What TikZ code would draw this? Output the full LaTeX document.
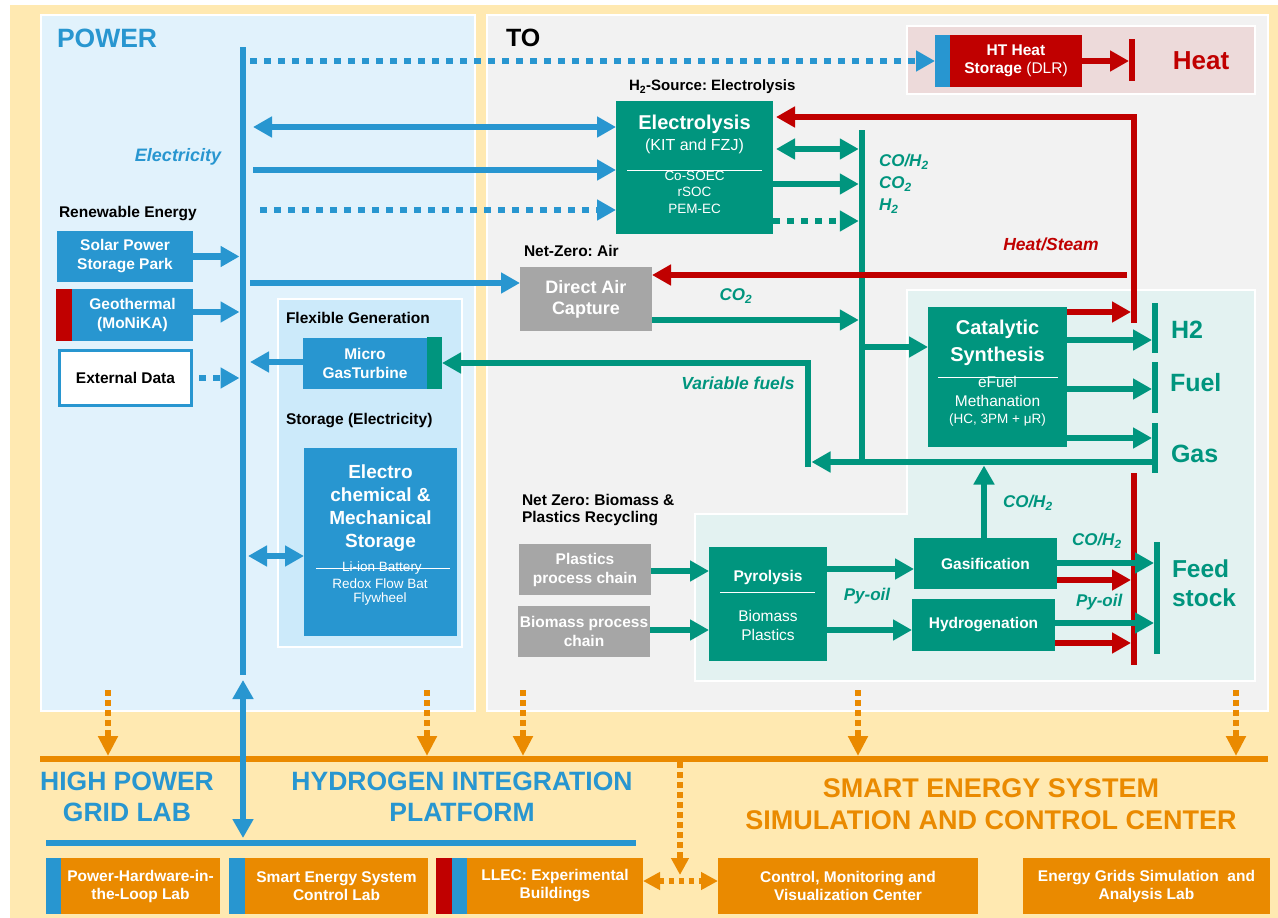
\documentclass[tikz,border=0pt]{standalone}
\usepackage{fontspec}
\setmainfont{Liberation Sans}
\usetikzlibrary{arrows.meta}

\definecolor{cyel}{HTML}{FFE9B1}
\definecolor{cpow}{HTML}{E1F2FC}
\definecolor{cflex}{HTML}{CCEAFA}
\definecolor{cto}{HTML}{F2F2F2}
\definecolor{cheat}{HTML}{EDDADA}
\definecolor{csyn}{HTML}{E3F2F1}
\definecolor{cblue}{HTML}{2896D0}
\definecolor{cgreen}{HTML}{00957E}
\definecolor{cred}{HTML}{C00000}
\definecolor{cgrey}{HTML}{A6A6A6}
\definecolor{corange}{HTML}{EA8A00}

\newcommand\fz[2]{\fontsize{#1pt}{#2pt}\selectfont}
\frenchspacing

\tikzset{
  Tri/.tip={Triangle[length=19pt,width=20pt]},
  OTri/.tip={Triangle[length=20pt,width=19pt]},
  STri/.tip={Triangle[length=17pt,width=17pt]},
}

\begin{document}
\begin{tikzpicture}[x=1pt,y=-1pt,
  every node/.style={inner sep=0pt,outer sep=0pt},
  rect/.style args={#1/#2/#3/#4}{minimum width={(#3)-(#1)},minimum height={(#4)-(#2)},
    at={({((#1)+(#3))/2},{((#2)+(#4))/2})}},
  panel/.style={draw=white,line width=2.5pt},
  box/.style={inner sep=0pt,align=center,text=white},
  bbox/.style={box,fill=cblue,font=\bfseries\fz{15.5}{19}},
  gbox/.style={box,fill=cgreen,font=\bfseries\fz{15.5}{19}},
  ybox/.style={box,fill=cgrey,font=\bfseries\fz{15.5}{19}},
  obox/.style={box,fill=corange,font=\bfseries\fz{15.5}{18}},
  strip/.style={inner sep=0pt},
  lab/.style={anchor=west,font=\bfseries\fz{15.5}{17.5}},
  wtxt/.style={text=white,align=center},
  gital/.style={text=cgreen,font=\bfseries\itshape\fz{17}{21}},
  bline/.style={draw=cblue,line width=6.5pt},
  gline/.style={draw=cgreen,line width=6.5pt},
  rline/.style={draw=cred,line width=6pt},
  oline/.style={draw=corange,line width=6pt},
  odots/.style={draw=corange,line width=6pt,dash pattern=on 5.5pt off 4.5pt},
  dotline/.style={dash pattern=on 7pt off 7pt},
  fwd/.style={-{Tri}},
  twoway/.style={{Tri}-{Tri}},
]
\useasboundingbox (0,0) rectangle (1278,918);

% ---------- backgrounds and panels ----------
\fill[white] (0,0) rectangle (1278,918);
\fill[cyel] (10,5) rectangle (1278,918);
\filldraw[fill=cpow,panel] (41,15) rectangle (475,711);
\filldraw[fill=cto,panel] (487,15) rectangle (1268,711);
\filldraw[fill=cheat,panel] (907,26) rectangle (1255,94);
\filldraw[fill=cflex,panel] (278,299) rectangle (462,647);
\filldraw[fill=csyn,panel] (907,290) -- (1255,290) -- (1255,681) -- (695,681)
  -- (695,514) -- (907,514) -- cycle;

% ---------- POWER side ----------
\node[anchor=west,text=cblue,font=\bfseries\fz{26.5}{30}] (tpow) at (57,38) {POWER};
\node[text=cblue,font=\bfseries\itshape\fz{18}{22}] (telec) at (178,157) {Electricity};
\node[lab] (tren) at (59,214) {Renewable Energy};
\node[bbox,rect=57/231/193/282] (solar) {Solar Power\\Storage Park};
\node[strip,fill=cred,rect=56/289/72/341] (geor) {};
\node[bbox,rect=72/289/193/341] (geo) {Geothermal\\(MoNiKA)};
\node[fill=white,draw=cblue,line width=3pt,font=\bfseries\fz{15.5}{19},
  rect=59.5/350.5/191.5/405.5] (ext) {External Data};

\node[lab] (tflex) at (286,318) {Flexible Generation};
\node[bbox,rect=303/338/427/389] (mgt) {Micro\\GasTurbine};
\node[strip,fill=cgreen,rect=427/337/442/389] (mgtg) {};
\node[lab] (tstore) at (286,421) {Storage (Electricity)};
\node[bbox,rect=304/448/457/636] (stor) {};
\node[wtxt,font=\bfseries\fz{19}{23}] (stort) at (380.5,508) {Electro\\chemical \&\\Mechanical\\Storage};
\node[wtxt,font=\fz{13.5}{16}] (stor1) at (382,568) {Li-ion Battery};
\draw[white,line width=0.8pt] (316,568.5) -- (450,568.5);
\node[wtxt,font=\fz{13.5}{16}] (stor2) at (380,583.5) {Redox Flow Bat};
\node[wtxt,font=\fz{13.5}{16}] (stor3) at (380,599.5) {Flywheel};

% electricity bus
\coordinate (pbT) at (243,47);
\coordinate (pbB) at (243,675);
\coordinate (pbL) at (239.5,0);
\coordinate (pbR) at (250,0);
\draw[bline] (pbT) -- (pbB);

\draw[bline,fwd] (solar.east) -- (solar.east -| pbL);
\coordinate (geoout) at ([yshift=3pt]geo.east);
\draw[bline,fwd] (geoout) -- (geoout -| pbL);
\coordinate (extout) at ([xshift=7.5pt]ext.east);
\draw[bline,dotline,fwd] (extout) -- (extout -| pbL);
\coordinate (mgtout) at ([yshift=1.5pt]mgt.west);
\draw[bline,fwd] (mgtout) -- (mgtout -| pbR);
\coordinate (sA) at (248,556);
\draw[bline,twoway] (sA) -- (sA -| stor.west);

% ---------- TO side ----------
\node[anchor=west,font=\bfseries\fz{25}{30}] (tto) at (506,38) {TO};

% heat storage
\node[strip,fill=cblue,rect=935/35/950/87] (hts) {};
\node[box,fill=cred,font=\fz{15.5}{18},rect=950/35/1082/87] (htb)
  {\textbf{HT Heat}\\\textbf{Storage} (DLR)};
\node[strip,fill=cred,rect=1129/39/1135/81] (heatbar) {};
\node[text=cred,font=\bfseries\fz{26}{30}] (theat) at (1201,61) {Heat};
\draw[rline,fwd] (htb.east) -- (htb.east -| heatbar.west);
\coordinate (e0) at (250,61);
\draw[bline,dotline,fwd] (e0) -- (e0 -| hts.west);

% electrolysis
\node[lab,font=\bfseries\fz{15}{17}] (th2s) at (629,87) {H\textsubscript{2}-Source: Electrolysis};
\node[gbox,rect=616/101/773/234] (ely) {};
\node[wtxt,font=\bfseries\fz{20}{24}] (ely1) at (694.5,124) {Electrolysis};
\node[wtxt,font=\fz{16}{19}] (ely2) at (694.5,146) {(KIT and FZJ)};
\draw[white,line width=1pt] (627,170) -- (762,170);
\node[wtxt,font=\fz{13.5}{16}] (ely3) at (694.5,176) {Co-SOEC};
\node[wtxt,font=\fz{13.5}{16}] (ely4) at (694.5,192) {rSOC};
\node[wtxt,font=\fz{13.5}{16}] (ely5) at (694.5,209) {PEM-EC};

\coordinate (e1) at (253,127);
\draw[bline,twoway] (e1) -- (e1 -| ely.west);
\coordinate (e2) at (253,170);
\draw[bline,fwd] (e2) -- (e2 -| ely.west);
\coordinate (e3) at (260,210);
\draw[bline,dotline,fwd] (e3) -- (e3 -| ely.west);

% direct air capture
\node[lab] (tnza) at (524,251) {Net-Zero: Air};
\node[ybox,font=\bfseries\fz{18}{21},rect=520/267/652/331] (dac) {Direct Air\\Capture};
\coordinate (e4) at (250,283);
\draw[bline,fwd] (e4) -- (e4 -| dac.west);

% gas bus
\coordinate (gbT) at (862,130);
\coordinate (gbB) at (862,465);
\draw[gline] (gbT) -- (gbB);
\coordinate (g1) at (858.75,149);
\draw[gline,twoway,shorten <=3pt] (g1 -| ely.east) -- (g1);
\coordinate (g2) at (858.75,184);
\draw[gline,fwd] (g2 -| ely.east) -- (g2);
\coordinate (g3) at (858.75,221);
\draw[gline,dotline,fwd] (g3 -| ely.east) -- (g3);
\node[gital,anchor=west] (tg1) at (879,162) {CO/H\textsubscript{2}};
\node[gital,anchor=west] (tg2) at (879,184) {CO\textsubscript{2}};
\node[gital,anchor=west] (tg3) at (879,206) {H\textsubscript{2}};

\coordinate (g4) at (858.75,320);
\draw[gline,fwd] (g4 -| dac.east) -- (g4);
\node[gital] (tco2) at (736,296) {CO\textsubscript{2}};

% catalytic synthesis
\node[gbox,rect=928/307/1067/447] (cat) {};
\node[wtxt,font=\bfseries\fz{20}{27}] (cat1) at (997.5,343) {Catalytic\\Synthesis};
\draw[white,line width=1pt] (938,377) -- (1058,377);
\node[wtxt,font=\fz{15.5}{18}] (cat2) at (997.5,382) {eFuel};
\node[wtxt,font=\fz{15.5}{18}] (cat3) at (997.5,401) {Methanation};
\node[wtxt,font=\fz{13.5}{16}] (cat4) at (997.5,420) {(HC, 3PM + μR)};
\coordinate (g5) at (862,347);
\draw[gline,fwd] (g5) -- (g5 -| cat.west);

\node[strip,fill=cgreen,rect=1152/303/1158/353] (barh) {};
\node[strip,fill=cgreen,rect=1152/362/1158/413] (barf) {};
\node[strip,fill=cgreen,rect=1152/423/1158/473] (barg) {};
\node[anchor=west,text=cgreen,font=\bfseries\fz{25}{30}] (th2) at (1171,330) {H2};
\node[anchor=west,text=cgreen,font=\bfseries\fz{25}{30}] (tfuel) at (1170,383) {Fuel};
\node[anchor=west,text=cgreen,font=\bfseries\fz{25}{30}] (tgas) at (1171,454) {Gas};
\coordinate (o1) at (0,340);
\draw[gline,fwd] (o1 -| cat.east) -- (o1 -| barh.west);
\coordinate (o2) at (0,389);
\draw[gline,fwd] (o2 -| cat.east) -- (o2 -| barf.west);
\coordinate (o3) at (0,438);
\draw[gline,fwd] (o3 -| cat.east) -- (o3 -| barg.west);

% variable fuels loop back to the gas turbine
\coordinate (vf) at (0,462);
\coordinate (vfx) at (811.5,462);
\draw[gline,fwd] (vf -| barg.west) -- (vfx);
\coordinate (vfB) at (808,467);
\coordinate (vfK) at (808,363);
\draw[gline,fwd] (vfB) -- (vfK) -- (vfK -| mgtg.east);
\node[gital,font=\bfseries\itshape\fz{17.5}{21}] (tvf) at (738,383) {Variable fuels};

% heat / steam loop
\coordinate (rB) at (1134,323);
\coordinate (rT) at (1134,117);
\draw[rline,fwd,shorten >=3pt] (rB) -- (rT) -- (rT -| ely.east);
\coordinate (hs) at (1127,275);
\draw[rline,fwd] (hs) -- (hs -| dac.east);
\coordinate (c0) at (1131,312);
\draw[rline,fwd] (c0 -| cat.east) -- (c0);
\node[text=cred,font=\bfseries\itshape\fz{17.5}{21}] (thst) at (1051,244) {Heat/Steam};

% biomass and plastics
\node[lab,align=left] (tnzb) at (522,510) {Net Zero: Biomass \&\\Plastics Recycling};
\node[ybox,rect=519/544/651/595] (plc) {Plastics\\process chain};
\node[ybox,rect=518/606/650/657] (bmc) {Biomass process\\chain};
\node[gbox,rect=709/547/827/661] (pyr) {};
\node[wtxt,font=\bfseries\fz{15.5}{18}] (pyr1) at (768,577) {Pyrolysis};
\draw[white,line width=1pt] (720,592) -- (815,592);
\node[wtxt,font=\fz{15.5}{19}] (pyr2) at (768,625) {Biomass\\Plastics};
\node[gbox,rect=914/538/1057/589] (gas) {Gasification};
\node[gbox,rect=912/599/1055/651] (hyd) {Hydrogenation};

\coordinate (q1) at (0,571);
\draw[gline,fwd] (q1 -| plc.east) -- (q1 -| pyr.west);
\coordinate (q2) at (0,630);
\draw[gline,fwd] (q2 -| bmc.east) -- (q2 -| pyr.west);
\coordinate (p1) at (0,569);
\draw[gline,fwd] (p1 -| pyr.east) -- (p1 -| gas.west);
\coordinate (p2) at (0,630);
\draw[gline,fwd] (p2 -| pyr.east) -- (p2 -| hyd.west);
\node[gital] (tpy1) at (867,596) {Py-oil};

\coordinate (gu) at (984,465.5);
\draw[gline,fwd] (gu |- gas.north) -- (gu);
\node[gital,anchor=west] (tcoh1) at (1003,503) {CO/H\textsubscript{2}};

\node[strip,fill=cred,rect=1131/473/1137/665] (rbar) {};
\node[strip,fill=cgreen,rect=1154/542/1160/654] (barfs) {};
\coordinate (f2) at (0,580);
\draw[rline,fwd] (f2 -| gas.east) -- (f2 -| rbar.west);
\coordinate (f4) at (0,643);
\draw[rline,fwd] (f4 -| hyd.east) -- (f4 -| rbar.west);
\coordinate (f1) at (0,563);
\draw[gline,fwd] (f1 -| gas.east) -- (f1 -| barfs.west);
\coordinate (f3) at (0,623);
\draw[gline,fwd] (f3 -| hyd.east) -- (f3 -| barfs.west);
\node[gital,anchor=west] (tcoh2) at (1072,541) {CO/H\textsubscript{2}};
\node[gital,anchor=west] (tpy2) at (1076,602) {Py-oil};
\node[anchor=west,align=left,text=cgreen,font=\bfseries\fz{24.5}{29}] (tfs) at (1172,583) {Feed\\stock};

% ---------- platforms ----------
\foreach \x [count=\i] in {108,427,523,858,1236} {
  \coordinate (od\i) at (\x,690);
}
\coordinate (oy) at (0,756);
\foreach \i in {1,...,5} {
  \draw[odots,-{OTri}] (od\i) -- (od\i |- oy);
}
\coordinate (oL1) at (40,759);
\coordinate (oL2) at (1268,759);
\draw[oline] (oL1) -- (oL2);

\coordinate (bvT) at (243,680);
\coordinate (bvB) at (243,838);
\draw[bline,line width=6pt,twoway] (bvT) -- (bvB);
\coordinate (bh1) at (46,843);
\coordinate (bh2) at (636,843);
\draw[bline,line width=6pt] (bh1) -- (bh2);

\node[text=cblue,font=\bfseries\fz{26.5}{31},align=center] (thp) at (127,796.5) {HIGH POWER\\GRID LAB};
\node[text=cblue,font=\bfseries\fz{26.5}{31},align=center] (thi) at (462,796.5) {HYDROGEN INTEGRATION\\PLATFORM};
\node[text=corange,font=\bfseries\fz{27}{32},align=center] (tses) at (991,804) {SMART ENERGY SYSTEM\\SIMULATION AND CONTROL CENTER};

\node[strip,fill=cblue,rect=46/858/61/914] (s1) {};
\node[obox,rect=61/858/220/914] (phil) {Power-Hardware-in-\\the-Loop Lab};
\node[strip,fill=cblue,rect=229/858/245/914] (s2) {};
\node[obox,rect=245/858/428/914] (secl) {Smart Energy System\\Control Lab};
\node[strip,fill=cred,rect=436/858/452/914] (s3r) {};
\node[strip,fill=cblue,rect=452/858/467/914] (s3b) {};
\node[obox,rect=467/858/643/914] (llec) {LLEC: Experimental\\Buildings};
\node[obox,rect=718/858/978/914] (cmv) {Control, Monitoring and\\Visualization Center};
\node[obox,rect=1023/858/1270/914] (egs) {Energy Grids Simulation\ \ and\\Analysis Lab};

\coordinate (ov) at (680,762);
\coordinate (ovE) at (680,875);
\draw[odots,-{STri}] (ov) -- (ovE);
\coordinate (oh) at (680,881);
\draw[odots,{STri}-{STri}] (oh -| llec.east) -- (oh -| cmv.west);

\end{tikzpicture}
\end{document}
